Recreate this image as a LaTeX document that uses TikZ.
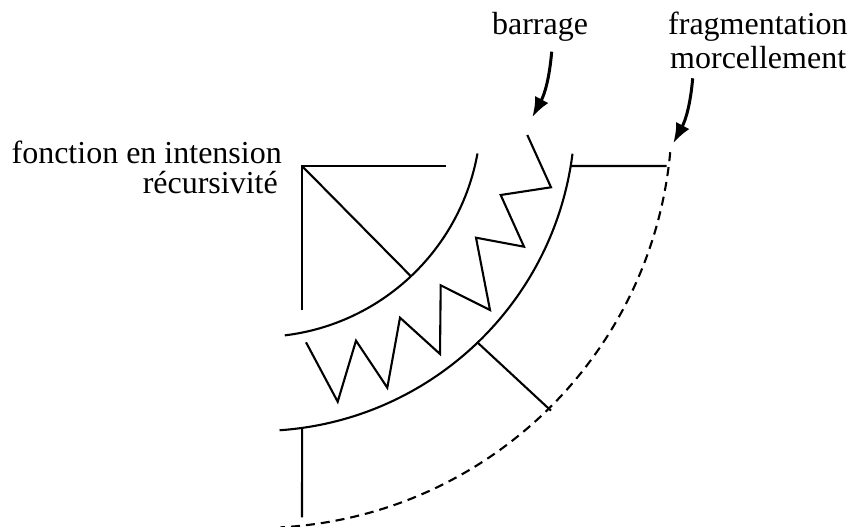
\documentclass[tikz,border=0pt]{standalone}
\usepackage{fontspec}
\setmainfont{Liberation Serif}
\usetikzlibrary{arrows.meta,calc}
\begin{document}
\begin{tikzpicture}[x=1pt,y=1pt,
  ln/.style={line width=2.1pt},
  dsh/.style={line width=2.1pt, dash pattern=on 9pt off 6pt},
  ptr/.style={line width=3pt, -{Latex[length=20pt,width=15pt]}},
  lbl/.style={inner sep=0pt, font=\fontsize{32}{34}\selectfont}]
\useasboundingbox (0,0) rectangle (849,527);
\coordinate (C) at (258,413);
% arcs
\coordinate (i1) at ([shift={(-10.2:223)}]C);
\coordinate (o1) at ([shift={(-7.2:317)}]C);
\coordinate (q1) at ([shift={(-5.3:414)}]C);
\draw[ln] (i1) arc[start angle=-10.2, end angle=-83.1, radius=223];
\draw[ln] (o1) arc[start angle=-7.2, end angle=-86.1, radius=317];
\draw[dsh] (q1) arc[start angle=-5.3, end angle=-86.9, radius=414];
% triangle
\coordinate (V) at (302,361);
\coordinate (Vh) at (446,361);
\coordinate (Vv) at (302,217);
\coordinate (Vd) at ([shift={(-46.7:223)}]C);
\draw[ln] (Vh) -- (V) -- (Vv);
\draw[ln] (V) -- (Vd);
% outer ties
\coordinate (t1) at ([shift={(-9.44:317)}]C);
\coordinate (t2) at (666.7,361);
\draw[ln] (t1) -- (t2);
\coordinate (u1) at ([shift={(-46.15:317)}]C);
\coordinate (u2) at (551,116.3);
\draw[ln] (u1) -- (u2);
\coordinate (w1) at ([shift={(-82.0:317)}]C);
\coordinate (w2) at (302,9.7);
\draw[ln] (w1) -- (w2);
% zigzag
\coordinate (z1) at (306,184.7);
\coordinate (z2) at (337.7,125.3);
\coordinate (z3) at (356,186.3);
\coordinate (z4) at (387.3,139.3);
\coordinate (z5) at (400,209.3);
\coordinate (z6) at (440,173);
\coordinate (z7) at (440.7,241.7);
\coordinate (z8) at (490,217);
\coordinate (z9) at (476,289.3);
\coordinate (z10) at (524,280.3);
\coordinate (z11) at (500.7,332);
\coordinate (z12) at (551,339.7);
\coordinate (z13) at (527.3,392);
\draw[ln, line join=miter] (z1) -- (z2) -- (z3) -- (z4) -- (z5) -- (z6) -- (z7) -- (z8) -- (z9) -- (z10) -- (z11) -- (z12) -- (z13);
% labels
\node[lbl, anchor=base east] (f1) at (282,363.7) {fonction en intension};
\node[lbl, anchor=base east] (f2) at (278,333) {récursivité};
\node[lbl, anchor=base] (b) at (540,492) {barrage};
\node[lbl, anchor=base west] (g1) at (668,492) {fragmentation};
\node[lbl, anchor=base west] (g2) at (670,458.7) {morcellement};
% arrows
\coordinate (a1) at (551.7,475.3);
\coordinate (a2) at (532.3,409.7);
\draw[ptr] (a1) to[out=-95, in=62] (a2);
\coordinate (c1) at (692.7,448.7);
\coordinate (c2) at (673.3,383.7);
\draw[ptr] (c1) to[out=-95, in=62] (c2);
\end{tikzpicture}
\end{document}
